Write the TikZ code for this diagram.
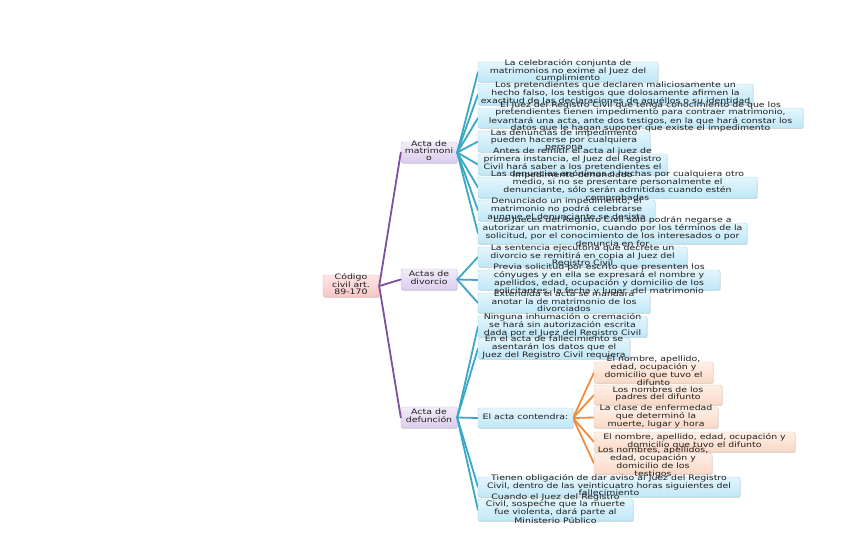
\documentclass[tikz,border=0pt]{standalone}
\usepackage{fontspec}
\newfontfamily\mmfont[FakeStretch=1.25]{DejaVu Sans}
\usetikzlibrary{shadows}
\definecolor{lineblue}{RGB}{58,168,196}
\definecolor{linepurple}{RGB}{122,82,160}
\definecolor{lineorange}{RGB}{242,140,60}
\tikzset{
  boxbase/.style={rounded corners=2pt, inner sep=0pt, line width=0.4pt,
    drop shadow={shadow xshift=0.7pt,shadow yshift=-0.9pt,opacity=0.25,fill=black!60}},
  bluebox/.style={boxbase, draw={rgb,255:red,165;green,215;blue,235},
    top color={rgb,255:red,228;green,246;blue,253}, bottom color={rgb,255:red,192;green,231;blue,248}},
  purplebox/.style={boxbase, draw={rgb,255:red,200;green,185;blue,225},
    top color={rgb,255:red,242;green,236;blue,249}, bottom color={rgb,255:red,218;green,205;blue,237}},
  pinkbox/.style={boxbase, draw={rgb,255:red,235;green,180;blue,180},
    top color={rgb,255:red,253;green,230;blue,230}, bottom color={rgb,255:red,246;green,198;blue,198}},
  orangebox/.style={boxbase, draw={rgb,255:red,240;green,200;blue,180},
    top color={rgb,255:red,254;green,240;blue,230}, bottom color={rgb,255:red,250;green,216;blue,198}},
  lbl/.style={inner sep=0pt, font=\mmfont\fontsize{7.5}{7}\selectfont, text=black!88},
  conn/.style={line width=1.8pt, line cap=round},
}
\newcommand\bx[6]{\node[#2, minimum width={(#5-#3)*1pt}, minimum height={(#6-#4)*1pt}] (#1) at ({(#3+#5)/2},{(#4+#6)/2}) {};}
\newcommand\tx[2]{\node[lbl] (#1t) at ([yshift=0.8pt]#1.center) {\begin{tabular}{@{}c@{}}#2\end{tabular}};}
\begin{document}
\begin{tikzpicture}[x=1pt,y=-1pt]
\useasboundingbox[fill=white] (0,0) rectangle (848,549);
% ---------- boxes ----------
\bx{root}{pinkbox}{323}{275}{379}{297}
\bx{bm}{purplebox}{401}{142}{457}{163}
\bx{bd}{purplebox}{401}{269}{457}{290}
\bx{bf}{purplebox}{401}{407}{457}{428}
% connectors
\draw[conn, linepurple] (root.east) -- (bm.west);
\draw[conn, linepurple] (root.east) -- (bd.west);
\draw[conn, linepurple] (root.east) -- (bf.west);
\foreach \y/\n in {72/1,94.5/2,118/3,141.5/4,164.5/5,187.5/6,210.5/7,233.5/8}{
  \coordinate (lm\n) at (478,\y);
  \draw[conn, lineblue] (bm.east) -- (lm\n);
}
\foreach \y/\n in {257/9,280/10,303/11}{
  \coordinate (lm\n) at (478,\y);
  \draw[conn, lineblue] (bd.east) -- (lm\n);
}
\foreach \y/\n in {326.5/12,348.5/13,418/14,487/15,510/16}{
  \coordinate (lm\n) at (478,\y);
  \draw[conn, lineblue] (bf.east) -- (lm\n);
}
\coordinate (ac) at (573,418);
\foreach \y/\n in {372.5/a,395/b,417.5/c,442/d,463.5/e}{
  \coordinate (om\n) at (594,\y);
  \draw[conn, lineorange] (ac) -- (om\n);
}
% leaves
\bx{l1}{bluebox}{478}{62}{658}{82}
\bx{l2}{bluebox}{478}{84}{753}{105}
\bx{l3}{bluebox}{478}{108}{803}{128}
\bx{l4}{bluebox}{478}{131}{650}{152}
\bx{l5}{bluebox}{478}{154}{667}{175}
\bx{l6}{bluebox}{478}{177}{757}{198}
\bx{l7}{bluebox}{478}{200}{655}{221}
\bx{l8}{bluebox}{478}{223}{747}{244}
\bx{l9}{bluebox}{478}{247}{687}{267}
\bx{l10}{bluebox}{478}{270}{720}{290}
\bx{l11}{bluebox}{478}{293}{650}{313}
\bx{l12}{bluebox}{478}{316}{647}{337}
\bx{l13}{bluebox}{478}{338}{630}{359}
\bx{l14}{bluebox}{478}{408}{573}{428}
\bx{l15}{bluebox}{478}{477}{740}{497}
\bx{l16}{bluebox}{478}{499}{633}{521}
\bx{oa}{orangebox}{594}{362}{713}{383}
\bx{ob}{orangebox}{594}{385}{722}{405}
\bx{oc}{orangebox}{594}{407}{718}{428}
\bx{od}{orangebox}{594}{432}{795}{452}
\bx{oe}{orangebox}{594}{453}{712}{474}
% ---------- texts ----------
\tx{root}{Código\\civil art.\\89-170}
\tx{bm}{Acta de\\matrimoni\\o}
\tx{bd}{Actas de\\divorcio}
\tx{bf}{Acta de\\defunción}
\tx{l1}{La celebración conjunta de\\matrimonios no exime al Juez del\\cumplimiento}
\tx{l2}{Los pretendientes que declaren maliciosamente un\\hecho falso, los testigos que dolosamente afirmen la\\exactitud de las declaraciones de aquéllos o su identidad}
\tx{l3}{El Juez del Registro Civil que tenga conocimiento de que los\\pretendientes tienen impedimento para contraer matrimonio,\\levantará una acta, ante dos testigos, en la que hará constar los\\datos que le hagan suponer que existe el impedimento}
\tx{l4}{Las denuncias de impedimento\\pueden hacerse por cualquiera\\persona}
\tx{l5}{Antes de remitir el acta al juez de\\primera instancia, el Juez del Registro\\Civil hará saber a los pretendientes el\\impedimento denunciado}
\tx{l6}{Las denuncias anónimas o hechas por cualquiera otro\\medio, si no se presentare personalmente el\\denunciante, sólo serán admitidas cuando estén\\comprobadas}
\tx{l7}{Denunciado un impedimento, el\\matrimonio no podrá celebrarse\\aunque el denunciante se desista}
\tx{l8}{Los Jueces del Registro Civil sólo podrán negarse a\\autorizar un matrimonio, cuando por los términos de la\\solicitud, por el conocimiento de los interesados o por\\denuncia en for}
\tx{l9}{La sentencia ejecutoria que decrete un\\divorcio se remitirá en copia al Juez del\\Registro Civil}
\tx{l10}{Previa solicitud por escrito que presenten los\\cónyuges y en ella se expresará el nombre y\\apellidos, edad, ocupación y domicilio de los\\solicitantes, la fecha y lugar\ \ del matrimonio}
\tx{l11}{Extendida el acta se mandará\\anotar la de matrimonio de los\\divorciados}
\tx{l12}{Ninguna inhumación o cremación\\se hará sin autorización escrita\\dada por el Juez del Registro Civil}
\tx{l13}{En el acta de fallecimiento se\\asentarán los datos que el\\Juez del Registro Civil requiera}
\tx{l14}{El acta contendra:}
\tx{l15}{Tienen obligación de dar aviso al Juez del Registro\\Civil, dentro de las veinticuatro horas siguientes del\\fallecimiento}
\tx{l16}{Cuando el Juez del Registro\\Civil, sospeche que la muerte\\fue violenta, dará parte al\\Ministerio Público}
\tx{oa}{El nombre, apellido,\\edad, ocupación y\\domicilio que tuvo el\\difunto}
\tx{ob}{Los nombres de los\\padres del difunto}
\tx{oc}{La clase de enfermedad\\que determinó la\\muerte, lugar y hora}
\tx{od}{El nombre, apellido, edad, ocupación y\\domicilio que tuvo el difunto}
\tx{oe}{Los nombres, apellidos,\\edad, ocupación y\\domicilio de los\\testigos}
\end{tikzpicture}
\end{document}
